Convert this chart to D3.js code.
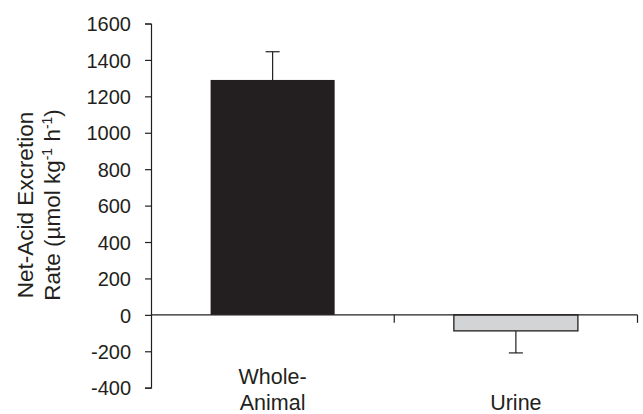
<!DOCTYPE html>
<html><head><meta charset="utf-8">
<script src="https://cdn.jsdelivr.net/npm/d3@7"></script>
<style>body{margin:0;background:#fff}svg{display:block}text{font-family:"Liberation Sans",Arial,sans-serif;fill:#231f20}</style>
</head><body>
<svg id="c" width="643" height="414"></svg>
<script>
const categories = ["Whole-Animal", "Urine"];
const categoryLines = [["Whole-", "Animal"], ["", "Urine"]];
const values = [1290, -88];
const errors = [155, 121];
const errorDir = [1, -1];
const yTicks = [-400, -200, 0, 200, 400, 600, 800, 1000, 1200, 1400, 1600];
const fills = ["#231f20", "#d3d4d5"];

const svg = d3.select("#c");
const ink = "#231f20";
const x = d3.scaleBand().domain(categories).range([151, 637.5]).paddingInner(0.49).paddingOuter(0.245);
const xOuter = d3.scaleBand().domain(categories).range([151, 637.5]);
const y = d3.scaleLinear().domain([-400, 1600]).range([387.7, 23.5]);

// y axis
const ya = svg.append("g").attr("transform", "translate(151,0)")
  .call(d3.axisLeft(y).tickValues(yTicks).tickSize(6).tickPadding(14).tickFormat(d => String(d)));
ya.select(".domain").attr("stroke", ink).attr("stroke-width", 1.2);
ya.selectAll(".tick line").attr("stroke", ink).attr("stroke-width", 1.2);
ya.selectAll(".tick text").attr("font-size", 20).attr("font-family", "Liberation Sans, Arial, sans-serif").attr("fill", ink).attr("dy", "0.36em");

// bars
svg.selectAll("rect.bar").data(categories).join("rect")
  .attr("x", d => x(d)).attr("width", x.bandwidth())
  .attr("y", (d, i) => y(Math.max(0, values[i])))
  .attr("height", (d, i) => Math.abs(y(values[i]) - y(0)))
  .attr("fill", (d, i) => fills[i])
  .attr("stroke", ink).attr("stroke-width", (d, i) => i === 1 ? 1.3 : 0);

// error bars
categories.forEach((c, i) => {
  const cx = x(c) + x.bandwidth() / 2;
  const v0 = values[i], v1 = values[i] + errorDir[i] * errors[i];
  svg.append("line").attr("x1", cx).attr("x2", cx).attr("y1", y(v0)).attr("y2", y(v1)).attr("stroke", ink).attr("stroke-width", 1.2);
  svg.append("line").attr("x1", cx - 7).attr("x2", cx + 7).attr("y1", y(v1)).attr("y2", y(v1)).attr("stroke", ink).attr("stroke-width", 1.2);
});

// x axis at zero
const xa = svg.append("g").attr("transform", `translate(0,${y(0)})`);
xa.append("line").attr("x1", 151).attr("x2", 637.5).attr("y1", 0).attr("y2", 0).attr("stroke", ink).attr("stroke-width", 1.2);
categories.forEach(c => {
  const bx = xOuter(c) + xOuter.bandwidth();
  xa.append("line").attr("x1", bx).attr("x2", bx).attr("y1", 0).attr("y2", 8).attr("stroke", ink).attr("stroke-width", 1.2);
});

// category labels
categories.forEach((c, i) => {
  const cx = x(c) + x.bandwidth() / 2;
  const t = svg.append("text").attr("text-anchor", "middle").attr("font-size", 21.5).attr("x", cx);
  t.append("tspan").attr("x", cx).attr("y", 384).text(categoryLines[i][0]);
  t.append("tspan").attr("x", cx).attr("y", 409.5).text(categoryLines[i][1]);
});

// y title
const yt = svg.append("text").attr("transform", "translate(0,205) rotate(-90)").attr("text-anchor", "middle").attr("font-size", 22.5);
yt.append("tspan").attr("x", 0).attr("y", 33).text("Net-Acid Excretion");
const l2 = yt.append("tspan").attr("x", 0).attr("y", 60);
l2.append("tspan").text("Rate (\u00b5mol kg");
l2.append("tspan").attr("dy", -8).attr("font-size", 14).text("-1");
l2.append("tspan").attr("dy", 8).text(" h");
l2.append("tspan").attr("dy", -8).attr("font-size", 14).text("-1");
l2.append("tspan").attr("dy", 8).text(")");
</script>
</body></html>
